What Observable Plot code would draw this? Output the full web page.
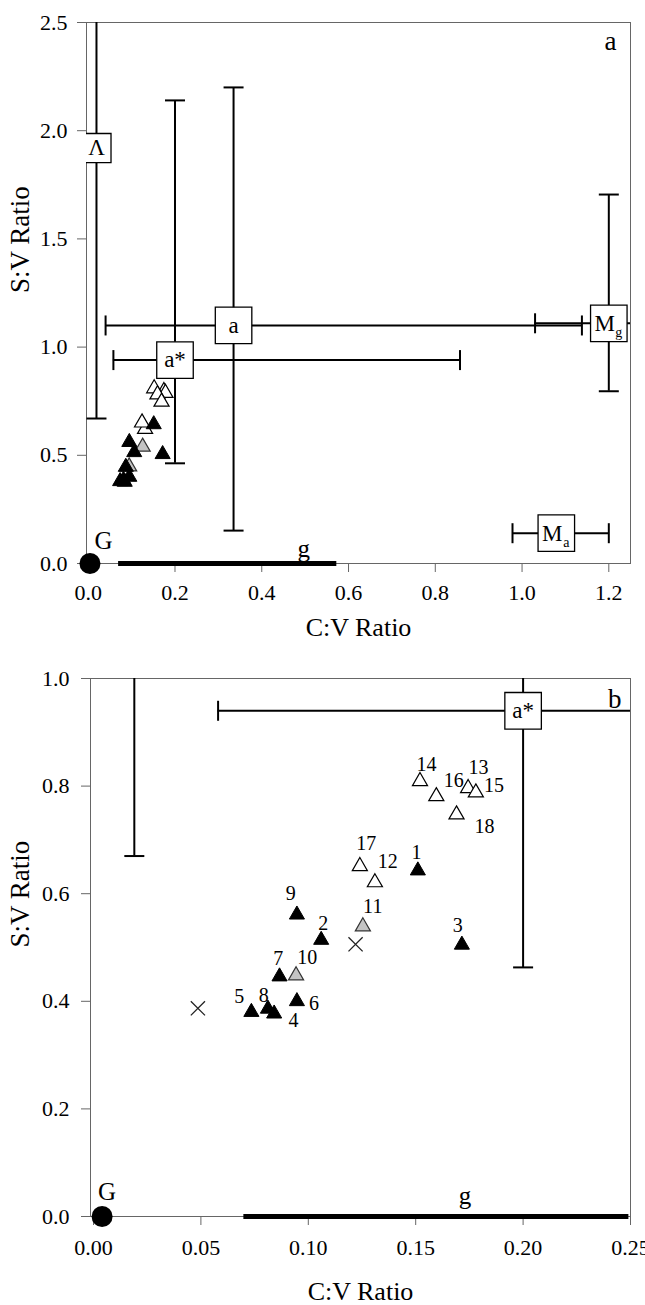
<!DOCTYPE html>
<html>
<head>
<meta charset="utf-8">
<script src="https://cdn.jsdelivr.net/npm/d3@7"></script>
<script src="https://cdn.jsdelivr.net/npm/@observablehq/plot@0.6"></script>
<style>
  html, body { margin: 0; padding: 0; background: #fff; }
  #chart svg { display: block; }
  #chart g[aria-label$="tick"] path { stroke: #666; }
</style>
</head>
<body>
<div id="chart"></div>
<script>
// ---------- DATA ----------
// Reference groups (box label, mean position, error ranges)
const groupLabel     = ["Λ",   "a*",  "a",   "M",   "M"];
const groupSubscript = ["",    "",    "",    "g",   "a"];
const groupX     = [0.019, 0.200, 0.335, 1.200, 1.079];
const groupY     = [1.92,  0.94,  1.10,  1.11,  0.14];
const groupXLow  = [null,  0.058, 0.040, 1.030, 0.978];
const groupXHigh = [null,  0.857, 1.138, 1.300, 1.200];
const groupYLow  = [0.67,  0.463, 0.152, 0.796, null];
const groupYHigh = [2.80,  2.14,  2.20,  1.705, null];

// Numbered samples
const sampleId   = [1, 2, 3, 4, 5, 6, 7, 8, 9, 10, 11, 12, 13, 14, 15, 16, 17, 18];
const sampleX    = [0.151, 0.106, 0.1715, 0.0841, 0.0735, 0.0947, 0.0866, 0.0812, 0.0947,
                    0.0943, 0.1254, 0.131, 0.1744, 0.152, 0.178, 0.1596, 0.124, 0.169];
const sampleY    = [0.643, 0.514, 0.505, 0.377, 0.380, 0.400, 0.446, 0.386, 0.561,
                    0.448, 0.539, 0.621, 0.796, 0.809, 0.788, 0.781, 0.651, 0.747];
const sampleType = ["filled","filled","filled","filled","filled","filled","filled","filled","filled",
                    "gray","gray","open","open","open","open","open","open","open"];
// Where each number label sits (panel b)
const labelX = [0.1504, 0.107, 0.1696, 0.0931, 0.0678, 0.1027, 0.086, 0.0793, 0.0918,
                0.0995, 0.130, 0.137, 0.1792, 0.155, 0.1865, 0.1677, 0.127, 0.182];
const labelY = [0.677, 0.545, 0.541, 0.364, 0.408, 0.396, 0.479, 0.411, 0.600,
                0.481, 0.576, 0.660, 0.835, 0.840, 0.801, 0.810, 0.694, 0.725];

// Cross markers (panel b)
const crossX = [0.0486, 0.122];
const crossY = [0.387, 0.506];

// G point and g range
const gPointX = 0.004, gPointY = 0;
const gRangeLow = 0.07, gRangeHigh = 0.573;

// Text labels for G / g in each panel
const gLabelA = {G: [0.035, 0.106], g: [0.497, 0.069]};
const gLabelB = {G: [0.0063, 0.045], g: [0.173, 0.039]};

// Axis ticks
const xTicksA = [0, 0.2, 0.4, 0.6, 0.8, 1.0, 1.2];
const yTicksA = [0, 0.5, 1.0, 1.5, 2.0, 2.5];
const xTicksB = [0, 0.05, 0.10, 0.15, 0.20, 0.25];
const yTicksB = [0, 0.2, 0.4, 0.6, 0.8, 1.0];

// ---------- BUILD ----------
const groups = groupLabel.map((label, i) => ({
  label, sub: groupSubscript[i], x: groupX[i], y: groupY[i],
  xLow: groupXLow[i], xHigh: groupXHigh[i], yLow: groupYLow[i], yHigh: groupYHigh[i]
}));
const samples = sampleId.map((id, i) => ({
  id: String(id), x: sampleX[i], y: sampleY[i], type: sampleType[i], lx: labelX[i], ly: labelY[i]
}));
const crosses = crossX.map((x, i) => ({x, y: crossY[i]}));

const vErr = groups.filter(d => d.yLow != null);
const hErr = groups.filter(d => d.xLow != null);
const vCaps = vErr.flatMap(d => [{x: d.x, y: d.yLow}, {x: d.x, y: d.yHigh}]);
const hCaps = hErr.flatMap(d => [{x: d.xLow, y: d.y}, {x: d.xHigh, y: d.y}]);

const hCapSymbol = {draw(ctx, size) { const r = Math.sqrt(size / Math.PI); ctx.moveTo(-r, 0); ctx.lineTo(r, 0); }};
const vCapSymbol = {draw(ctx, size) { const r = Math.sqrt(size / Math.PI); ctx.moveTo(0, -r); ctx.lineTo(0, r); }};

const FONT = "Liberation Serif, Times New Roman, serif";

function panel(opts) {
  const {xDomain, yDomain, xTicks, yTicks, xFmt, yFmt, height, margins, gLabels,
         showNumbers, letter, letterDx, letterDy, xTitleDy, yTitleDx, xPad, yPad} = opts;
  const inside = d => d.x >= xDomain[0] && d.x <= xDomain[1] && d.y >= yDomain[0] && d.y <= yDomain[1];
  const shownGroups = groups.filter(inside);
  const marks = [
    Plot.frame({stroke: "#666", strokeWidth: 1}),
    // g range (thick bar on the x axis), limited to the visible x range
    Plot.ruleY([{x1: gRangeLow, x2: Math.min(gRangeHigh, xDomain[1] - 0.0015 * (xDomain[1] - xDomain[0]) * 2)}],
               {y: 0, x1: "x1", x2: "x2", strokeWidth: 5, stroke: "black"}),
    // error bars
    Plot.ruleX(vErr, {x: "x", y1: "yLow", y2: "yHigh", stroke: "black", strokeWidth: 2, clip: true}),
    Plot.ruleY(hErr, {y: "y", x1: "xLow", x2: "xHigh", stroke: "black", strokeWidth: 2, clip: true}),
    Plot.dot(vCaps, {x: "x", y: "y", symbol: hCapSymbol, r: 10, fill: "none", stroke: "black", strokeWidth: 2, clip: true}),
    Plot.dot(hCaps, {x: "x", y: "y", symbol: vCapSymbol, r: 10, fill: "none", stroke: "black", strokeWidth: 2, clip: true}),
    // samples
    Plot.dot(samples.filter(d => d.type === "open"), {x: "x", y: "y", symbol: "triangle", r: 5.6, fill: "white", stroke: "black", strokeWidth: 1.2, clip: true}),
    Plot.dot(samples.filter(d => d.type === "gray"), {x: "x", y: "y", symbol: "triangle", r: 5.6, fill: "#c4c4c4", stroke: "#333", strokeWidth: 1.2, clip: true}),
    Plot.dot(samples.filter(d => d.type === "filled"), {x: "x", y: "y", symbol: "triangle", r: 5.6, fill: "black", stroke: "black", strokeWidth: 1, clip: true}),
  ];
  if (showNumbers) {
    marks.push(
      Plot.dot(crosses, {x: "x", y: "y", symbol: "times", r: 6.5, stroke: "#222", strokeWidth: 1.3, clip: true}),
      Plot.text(samples, {x: "lx", y: "ly", text: "id", fontSize: 20, fill: "black"})
    );
  }
  marks.push(
    // boxed group labels
    Plot.dot(groups.filter(d => d.label === "Λ"), {x: "x", y: "y", symbol: "square", r: 16.4, fill: "white", stroke: "black", strokeWidth: 1.3, clip: true}),
    Plot.dot(groups.filter(d => d.label !== "Λ"), {x: "x", y: "y", symbol: "square", r: 20.6, fill: "white", stroke: "black", strokeWidth: 1.3, clip: true}),
    Plot.text(shownGroups.filter(d => !d.sub), {x: "x", y: "y", text: "label", fontSize: 23, fill: "black"}),
    Plot.text(shownGroups.filter(d => d.sub), {x: "x", y: "y", text: "label", fontSize: 23, dx: -4, fill: "black"}),
    Plot.text(shownGroups.filter(d => d.sub), {x: "x", y: "y", text: "sub", fontSize: 14, dx: 10, dy: 9, fill: "black"}),
    // G point and labels
    Plot.dot([{x: gPointX, y: gPointY}], {x: "x", y: "y", r: 10.5, fill: "black"}),
    Plot.text([{t: "G", x: gLabels.G[0], y: gLabels.G[1]}, {t: "g", x: gLabels.g[0], y: gLabels.g[1]}], {x: "x", y: "y", text: "t", fontSize: 25, fill: "black"}),
    // panel letter
    Plot.text([letter], {frameAnchor: "top-right", lineAnchor: "top", textAnchor: "end", dx: letterDx, dy: letterDy, fontSize: 27, fill: "black"}),
    // axis titles
    Plot.text(["C:V Ratio"], {frameAnchor: "bottom", lineAnchor: "middle", dy: xTitleDy, fontSize: 26, fill: "black"}),
    Plot.text(["S:V Ratio"], {frameAnchor: "left", rotate: -90, dx: yTitleDx, fontSize: 27, fill: "black"})
  );
  return Plot.plot({
    width: 645,
    height,
    marginLeft: margins[3], marginRight: margins[1], marginTop: margins[0], marginBottom: margins[2],
    style: {fontFamily: FONT, fontSize: "22px", color: "black", background: "white", overflow: "visible"},
    x: {domain: xDomain, ticks: xTicks, tickFormat: xFmt, tickSize: 9, tickPadding: xPad, label: null},
    y: {domain: yDomain, ticks: yTicks, tickFormat: yFmt, tickSize: 9, tickPadding: yPad, label: null},
    marks
  });
}

const chart = document.getElementById("chart");
chart.append(panel({
  xDomain: [-0.004, 1.25], yDomain: [0, 2.5], xTicks: xTicksA, yTicks: yTicksA,
  xFmt: d3.format(".1f"), yFmt: d3.format(".1f"),
  height: 645, margins: [22, 15, 82, 86], gLabels: gLabelA, showNumbers: false,
  letter: "a", letterDx: -14, letterDy: 8, xTitleDy: 64, yTitleDx: -66, xPad: 12, yPad: 10
}));
chart.append(panel({
  xDomain: [-0.0014, 0.25], yDomain: [0, 1], xTicks: xTicksB, yTicks: yTicksB,
  xFmt: d3.format(".2f"), yFmt: d3.format(".1f"),
  height: 660, margins: [33, 15, 89, 90], gLabels: gLabelB, showNumbers: true,
  letter: "b", letterDx: -9, letterDy: 10, xTitleDy: 75, yTitleDx: -70, xPad: 14, yPad: 12
}));
</script>
</body>
</html>
